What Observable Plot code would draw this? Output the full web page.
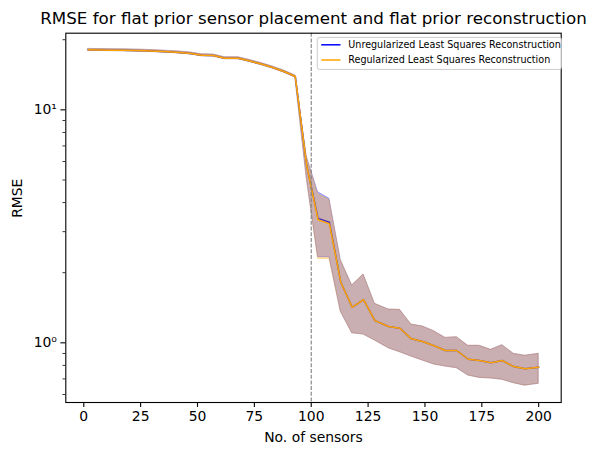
<!DOCTYPE html>
<html>
<head>
<meta charset="utf-8">
<script src="https://cdn.jsdelivr.net/npm/d3@7"></script>
<script src="https://cdn.jsdelivr.net/npm/@observablehq/plot@0.6"></script>
<style>
  html, body { margin: 0; padding: 0; background: white; }
  #chart { width: 594px; height: 455px; }
</style>
</head>
<body>
<div id="chart"></div>
<script>
// Number of sensors used in each placement run
const sensors = [2, 7, 12, 17, 22, 27, 32, 37, 42, 47, 52, 57, 62, 68, 73, 78, 83, 88, 93, 98,
  103, 108, 113, 118, 123, 128, 134, 139, 144, 149, 154, 159, 164, 169, 174, 179, 184, 189, 194, 200];

// Mean RMSE, regularized least squares reconstruction
const regMean = [18.09, 18.06, 18.03, 18.01, 17.97, 17.92, 17.83, 17.74, 17.62, 17.45, 17.14, 17.10,
  16.65, 16.64, 16.20, 15.72, 15.19, 14.60, 13.90, 5.77,
  3.37, 3.24, 1.82, 1.421, 1.534, 1.246, 1.175, 1.155, 1.040, 1.013, 0.971, 0.927, 0.927, 0.850,
  0.839, 0.821, 0.839, 0.791, 0.774, 0.786];
const regLow = [17.92, 17.89, 17.86, 17.84, 17.80, 17.75, 17.66, 17.57, 17.45, 17.28, 16.97, 16.93,
  16.49, 16.48, 16.04, 15.57, 15.04, 14.46, 13.76, 5.10,
  2.29, 2.29, 1.36, 1.099, 1.085, 1.023, 0.948, 0.911, 0.873, 0.839, 0.807, 0.791, 0.778, 0.724,
  0.707, 0.703, 0.694, 0.671, 0.655, 0.667];
const regHigh = [18.26, 18.23, 18.20, 18.18, 18.14, 18.09, 18.00, 17.91, 17.79, 17.62, 17.31, 17.27,
  16.81, 16.80, 16.36, 15.87, 15.34, 14.74, 14.04, 6.30,
  4.35, 4.10, 2.26, 1.762, 1.964, 1.470, 1.389, 1.385, 1.198, 1.175, 1.121, 1.050, 1.057, 0.971,
  0.971, 0.933, 0.977, 0.897, 0.880, 0.897];

// Mean RMSE, unregularized least squares reconstruction
const unregMean = [18.09, 18.06, 18.03, 18.01, 17.97, 17.92, 17.83, 17.74, 17.62, 17.45, 17.14, 17.10,
  16.65, 16.64, 16.20, 15.72, 15.19, 14.60, 13.90, 5.77,
  3.42, 3.29, 1.82, 1.421, 1.534, 1.246, 1.175, 1.155, 1.040, 1.013, 0.971, 0.927, 0.927, 0.850,
  0.839, 0.821, 0.839, 0.791, 0.774, 0.786];
const unregLow = [17.92, 17.89, 17.86, 17.84, 17.80, 17.75, 17.66, 17.57, 17.45, 17.28, 16.97, 16.93,
  16.49, 16.48, 16.04, 15.57, 15.04, 14.46, 13.76, 5.10,
  2.33, 2.33, 1.36, 1.099, 1.085, 1.023, 0.948, 0.911, 0.873, 0.839, 0.807, 0.791, 0.778, 0.724,
  0.707, 0.703, 0.694, 0.671, 0.655, 0.667];
const unregHigh = [18.26, 18.23, 18.20, 18.18, 18.14, 18.09, 18.00, 17.91, 17.79, 17.62, 17.31, 17.27,
  16.81, 16.80, 16.36, 15.87, 15.34, 14.74, 14.04, 6.30,
  4.43, 4.15, 2.26, 1.762, 1.964, 1.470, 1.389, 1.385, 1.198, 1.175, 1.121, 1.050, 1.057, 0.971,
  0.971, 0.933, 0.977, 0.897, 0.880, 0.897];

const xTicks = [0, 25, 50, 75, 100, 125, 150, 175, 200];
const yMajorTicks = [1, 10];
const yMajorLabels = ["10\u2070", "10\u00b9"];
const yMinorTicks = [0.6, 0.7, 0.8, 0.9, 2, 3, 4, 5, 6, 7, 8, 9, 20];
const threshold = 100;

const title = "RMSE for flat prior sensor placement and flat prior reconstruction";
const xLabel = "No. of sensors";
const yLabel = "RMSE";
const seriesNames = ["Unregularized Least Squares Reconstruction", "Regularized Least Squares Reconstruction"];
const seriesColors = ["blue", "orange"];

const unreg = sensors.map((n, i) => ({n, mean: unregMean[i], lo: unregLow[i], hi: unregHigh[i]}));
const reg = sensors.map((n, i) => ({n, mean: regMean[i], lo: regLow[i], hi: regHigh[i]}));

const font = "DejaVu Sans, Verdana, sans-serif";

const chart = Plot.plot({
  width: 594,
  height: 455,
  marginLeft: 65.3,
  marginRight: 33.3,
  marginTop: 32.7,
  marginBottom: 53,
  style: {fontFamily: font, fontSize: "13.9px", background: "white", color: "black"},
  x: {domain: [-7.9, 209.9]},
  y: {type: "log", domain: [0.5544, 21.33]},
  marks: [
    // spread bands and mean curves
    Plot.areaY(unreg, {x: "n", y1: "lo", y2: "hi", fill: seriesColors[0], fillOpacity: 0.3,
      stroke: seriesColors[0], strokeOpacity: 0.3, strokeWidth: 1}),
    Plot.line(unreg, {x: "n", y: "mean", stroke: seriesColors[0], strokeWidth: 1.5}),
    Plot.areaY(reg, {x: "n", y1: "lo", y2: "hi", fill: seriesColors[1], fillOpacity: 0.3,
      stroke: seriesColors[1], strokeOpacity: 0.3, strokeWidth: 1}),
    Plot.line(reg, {x: "n", y: "mean", stroke: seriesColors[1], strokeWidth: 1.5}),
    // dashed marker at 100 sensors
    Plot.ruleX([threshold], {stroke: "gray", strokeWidth: 1.1, strokeDasharray: "4,1.7"}),
    Plot.frame({stroke: "black", strokeWidth: 1.1}),
    Plot.axisX({ticks: xTicks, tickSize: 4.9, tickPadding: 4, label: null, strokeWidth: 1.1}),
    Plot.axisY({ticks: yMajorTicks, tickSize: 4.9, tickPadding: 4, label: null, strokeWidth: 1.1,
      tickFormat: (d) => yMajorLabels[yMajorTicks.indexOf(d)]}),
    Plot.axisY({ticks: yMinorTicks, tickSize: 2.8, tickFormat: () => "", label: null, strokeWidth: 0.8}),
    Plot.text([xLabel], {frameAnchor: "bottom", dy: 35, fontSize: 13.9, lineAnchor: "middle"}),
    Plot.text([yLabel], {frameAnchor: "left", dx: -48.3, rotate: -90, fontSize: 13.9, lineAnchor: "middle"}),
    Plot.text([title], {frameAnchor: "top", dy: -15, fontSize: 16.7, lineAnchor: "middle"})
  ]
});

// legend box in the upper right of the axes
const svg = d3.select(chart);
const lg = svg.append("g").attr("font-family", font).attr("font-size", "9.6px")
  .attr("text-anchor", "start");
const lx = 317.3, ly = 37.4, lw = 244, lh = 32;
lg.append("rect").attr("x", lx).attr("y", ly).attr("width", lw).attr("height", lh)
  .attr("rx", 2).attr("fill", "white").attr("fill-opacity", 0.8)
  .attr("stroke", "#cccccc").attr("stroke-width", 1);
seriesNames.forEach((name, i) => {
  const cy = ly + 7.4 + i * 15.2;
  lg.append("line").attr("x1", lx + 3.9).attr("x2", lx + 23.2).attr("y1", cy).attr("y2", cy)
    .attr("stroke", seriesColors[i]).attr("stroke-width", 1.5);
  lg.append("text").attr("x", lx + 31).attr("y", cy).attr("dy", "0.35em")
    .attr("fill", "black").text(name);
});

document.getElementById("chart").appendChild(chart);
</script>
</body>
</html>
